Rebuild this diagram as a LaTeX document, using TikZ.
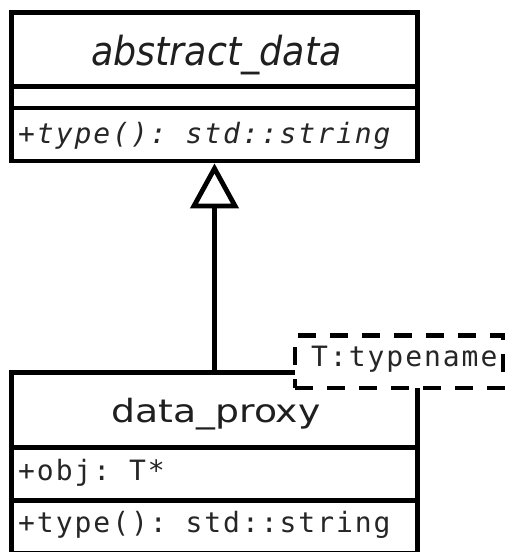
\documentclass[tikz,border=0pt]{standalone}
\usepackage{fontspec}
\usepackage{graphicx}
\setmainfont{DejaVu Sans}
\newfontfamily\umlmono{DejaVu Sans Mono}[LetterSpace=7]
\usetikzlibrary{arrows.meta}
\tikzset{
  compart/.style={draw, line width=4.8pt, minimum width=406pt, inner sep=0pt, outer sep=2.4pt, fill=white},
  titletext/.style={anchor=base, inner sep=0pt, font=\fontsize{40pt}{48pt}\selectfont, text=black!88},
  nametext/.style={anchor=base, inner sep=0pt, font=\fontsize{32pt}{38pt}\selectfont, text=black!88},
  membertext/.style={anchor=base west, inner sep=0pt, font=\umlmono\fontsize{28pt}{32pt}\selectfont, text=black!85},
  tparambox/.style={draw, line width=4.8pt, dash pattern=on 18pt off 14pt, fill=white, inner sep=0pt, outer sep=0pt},
  generalization/.style={line width=4.8pt, -{Triangle[open, length=45pt, width=48pt]}}
}
\begin{document}
\begin{tikzpicture}[x=1pt,y=-1pt]
\useasboundingbox (0,0) rectangle (508,552);
% abstract_data class
\node[compart, minimum height=74.2pt] (adname) at (214.5,49.6) {};
\node[compart, minimum height=21.3pt] (adattr) at (214.5,97.35) {};
\node[compart, minimum height=53pt] (adops) at (214.5,134.5) {};
\node[titletext] (adtitle) at (216.5,65) {\scalebox{0.91}[1]{\itshape abstract\_data}};
\node[membertext] (adop1) at (18,143) {\itshape +type():~std::string};
% data_proxy class
\node[compart, minimum height=75pt] (dpname) at (214.5,410) {};
\node[compart, minimum height=53pt] (dpattr) at (214.5,474) {};
\node[compart, minimum height=53pt] (dpops) at (214.5,527) {};
\node[nametext] (dptitle) at (216,422.3) {\scalebox{1.18}[1]{data\_proxy}};
\node[membertext] (dpattr1) at (18,480) {+obj:~T*};
\node[membertext] (dpop1) at (18,532) {+type():~std::string};
% template parameter
\node[tparambox, minimum width=208pt, minimum height=52.5pt] (tparam) at (399,361.75) {};
\node[membertext] (tparamtext) at (311,366) {T:typename};
% generalization
\draw[generalization] (dpname.north) -- (adops.south);
\end{tikzpicture}
\end{document}
